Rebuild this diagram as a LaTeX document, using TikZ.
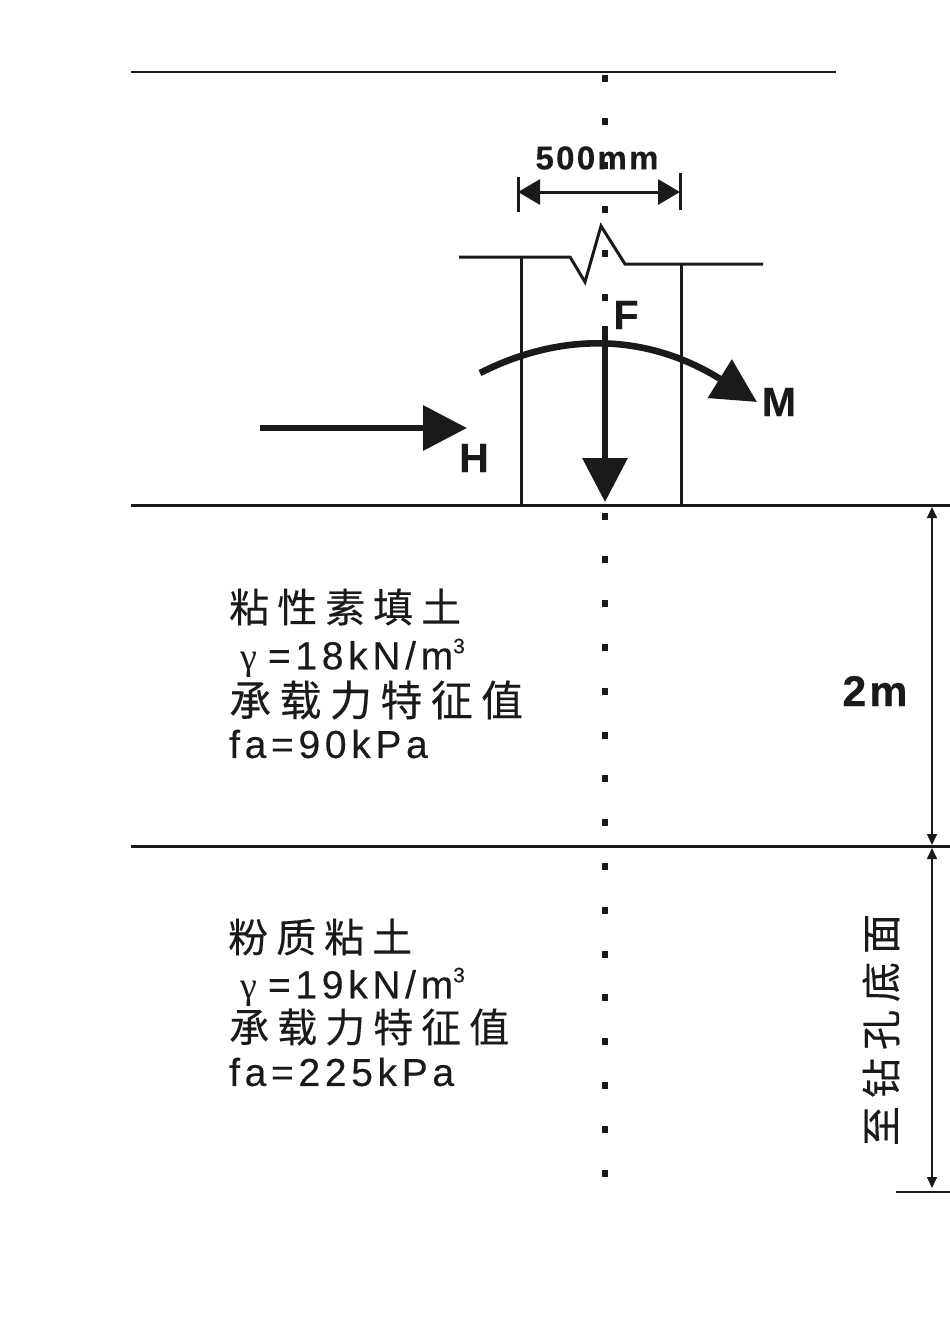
\documentclass[tikz,border=0pt]{standalone}
\usepackage{fontspec}
\setmainfont[LetterSpace=12,FakeBold=0.3]{Liberation Sans}
\newfontfamily\cjkfont[LetterSpace=20,FakeBold=0.3]{Noto Sans CJK SC}
\newfontfamily\gammafont{Liberation Serif}
\newfontfamily\boldfont[LetterSpace=7,FakeBold=0.4]{Liberation Sans Bold}
\usetikzlibrary{arrows.meta}
\usetikzlibrary{positioning}
\definecolor{ink}{HTML}{1A1A1A}
\newcommand{\soilgamma}{{\gammafont\fontsize{38}{38}\selectfont γ}\hspace{11pt}}
\newcommand{\cubed}{\raisebox{16pt}{\fontsize{21}{21}\selectfont 3}}

\begin{document}
\begin{tikzpicture}[x=1pt, y=-1pt, ink, color=ink,
                    thin line/.style={line width=1.6pt},
                    mid line/.style={line width=3pt},
                    load line/.style={line width=6.6pt, -{Triangle[length=44pt, width=44pt]}},
                    span line/.style={line width=3pt, {Triangle[length=22pt, width=25pt]}-{Triangle[length=22pt, width=25pt]}},
                    depth line/.style={thin line, {Triangle[length=11pt, width=10pt]}-{Triangle[length=11pt, width=10pt]}},
                    soil/.style={anchor=west, inner sep=0pt, font=\fontsize{39}{39}\selectfont},
                    soil cjk/.style={anchor=west, inner sep=0pt, font=\cjkfont\fontsize{40}{40}\selectfont},
                    force/.style={inner sep=0pt, font=\boldfont\fontsize{41}{41}\selectfont}]
    \useasboundingbox (0,0) rectangle (950,1342);

    \foreach \k in {0,...,25}
        \fill ({605-3.2},{78+43.8*\k-3.5}) rectangle ++(6.4,7);

    \coordinate (top west) at (131,72);
    \coordinate (top east) at (836,72);
    \coordinate (fill west) at (131,505);
    \coordinate (fill east) at (950,505);
    \coordinate (clay west) at (131,846);
    \coordinate (clay east) at (950,846);
    \coordinate (hole west) at (896,1192);
    \coordinate (hole east) at (950,1192);
    \draw [thin line] (top west) -- (top east);
    \draw [mid line] (fill west) -- (fill east);
    \draw [mid line] (clay west) -- (clay east);
    \draw [thin line] (hole west) -- (hole east);

    \coordinate (col a top) at (521,257);
    \coordinate (col a foot) at (521,505);
    \coordinate (col b top) at (681,264);
    \coordinate (col b foot) at (681,505);
    \coordinate (cut a) at (459,257);
    \coordinate (cut b) at (763,264);
    \draw [mid line] (col a top) -- (col a foot);
    \draw [mid line] (col b top) -- (col b foot);
    \draw [mid line, line join=miter] (cut a) -- (col a top) -- (570,257) -- (585,282) -- (601,226) -- (625,264) -- (col b top) -- (cut b);

    \coordinate (span a top) at (518,177);
    \coordinate (span a foot) at (518,212);
    \coordinate (span b top) at (680,173);
    \coordinate (span b foot) at (680,210);
    \coordinate (span a) at (518,192);
    \coordinate (span b) at (680,192);
    \draw [mid line] (span a top) -- (span a foot);
    \draw [mid line] (span b top) -- (span b foot);
    \draw [span line] (span a) -- (span b);
    \node [inner sep=0pt, font=\boldfont\fontsize{33}{33}\selectfont] (span label) at (597,158) {500mm};

    \coordinate (f start) at (605,326);
    \coordinate (f end) at (605,502);
    \draw [load line] (f start) -- (f end);
    \node [force] (f label) at (626,315) {F};

    \coordinate (h start) at (260,428);
    \coordinate (h end) at (467,428);
    \draw [load line] (h start) -- (h end);
    \node [force] (h label) at (474,458) {H};

    \coordinate (m start) at (480,373);
    \coordinate (m end) at (757,402);
    \draw [load line] (m start) .. controls (565,330) and (650,335) .. (m end);
    \node [force] (m label) at (779,402) {M};

    \node [soil cjk] (fill name) at (229,607) {粘性素填土};
    \node [soil] (fill weight) at (240,658) {\soilgamma=18kN/m\cubed};
    \node [soil cjk, font=\cjkfont\fontsize{42}{42}\selectfont] (fill bearing) at (229,700) {承载力特征值};
    \node [soil] (fill fa) at (229,744) {fa=90kPa};

    \node [soil cjk] (clay name) at (228,937) {粉质粘土};
    \node [soil] (clay weight) at (240,987) {\soilgamma=19kN/m\cubed};
    \node [soil cjk] (clay bearing) at (229,1027) {承载力特征值};
    \node [soil] (clay fa) at (229,1072) {fa=225kPa};

    \coordinate (fill a) at (932,507);
    \coordinate (fill b) at (932,845);
    \coordinate (clay a) at (932,848);
    \coordinate (clay b) at (932,1188);
    \draw [depth line] (fill a) -- (fill b);
    \draw [depth line] (clay a) -- (clay b);
    \node [force, font=\boldfont\fontsize{43}{43}\selectfont] (fill depth) at (875,691) {2m};
    \node [inner sep=0pt, rotate=90, font=\cjkfont\fontsize{40}{40}\selectfont] (clay depth) at (881,1030) {至钻孔底面};
\end{tikzpicture}
\end{document}
